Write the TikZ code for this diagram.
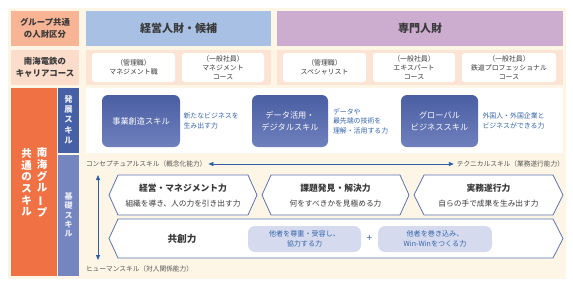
\documentclass[tikz,border=0pt]{standalone}
\usepackage{fontspec}
\usepackage{graphicx}
\setmainfont{Noto Sans CJK JP}
\usetikzlibrary{arrows.meta,calc}
\definecolor{cream}{HTML}{FDF6E6}
\definecolor{salmon}{HTML}{F8B596}
\definecolor{bluehead}{HTML}{A8C0E4}
\definecolor{purplehead}{HTML}{CCADCF}
\definecolor{peachl}{HTML}{FCDDCC}
\definecolor{peachband}{HTML}{FCE4D5}
\definecolor{orangec}{HTML}{F07143}
\definecolor{dblue}{HTML}{4560A4}
\definecolor{mblue}{HTML}{7485BF}
\definecolor{skilltop}{HTML}{4A5EA2}
\definecolor{skillbot}{HTML}{6F80BD}
\definecolor{descblue}{HTML}{3565AB}
\definecolor{arrowblue}{HTML}{2E5EA6}
\definecolor{chevborder}{HTML}{5E73AF}
\definecolor{pillc}{HTML}{D5DAEE}
\definecolor{darktext}{HTML}{3A3A3A}
\definecolor{graytext}{HTML}{555555}
\newcommand\vbar{\rotatebox[origin=c]{90}{ー}}
\begin{document}
\begin{tikzpicture}[x=1pt,y=-1pt,
  every node/.style={outer sep=0pt,inner sep=0pt},
  block/.style={draw=none,minimum height=35pt,align=center,text=darktext},
  hdr/.style={block,font=\fontsize{11}{13}\selectfont\bfseries},
  lhdr/.style={block,font=\fontsize{8.4}{12}\selectfont\bfseries},
  course/.style={fill=white,rounded corners=3pt,minimum height=29pt,align=center,text=darktext,font=\fontsize{6.9}{9.3}\selectfont},
  skillbox/.style={rounded corners=6pt,top color=skilltop,bottom color=skillbot,minimum height=52pt,align=center,text=white,font=\fontsize{8.2}{12}\selectfont},
  desc/.style={anchor=west,align=left,text=descblue,font=\fontsize{6.9}{9.5}\selectfont},
  axislabel/.style={text=graytext,font=\fontsize{6.7}{8}\selectfont},
  axisarrow/.style={draw=arrowblue,line width=0.8pt,{Triangle[length=5pt,width=4pt]}-{Triangle[length=5pt,width=4pt]}},
  chev/.style={minimum height=40pt,align=center,text=darktext},
  chevline/.style={fill=white,draw=chevborder,line width=0.8pt,line join=miter},
  pill/.style={fill=pillc,rounded corners=7pt,minimum height=26pt,align=center,text=descblue,font=\fontsize{7.1}{9.5}\selectfont},
  vtxt/.style={align=center}
]
\useasboundingbox (0,0) rectangle (573,285);
\fill[white] (0,0) rectangle (573,285);
\fill[cream] (8,8) rectangle (566,279);

% header row
\node[lhdr,fill=salmon,minimum width=68pt] (h0) at (45,28.5) {グループ共通\\の人財区分};
\node[hdr,fill=bluehead,minimum width=185pt] (h1) at (178.5,28.5) {経営人財・候補};
\node[hdr,fill=purplehead,minimum width=286pt] (h2) at (420,28.5) {専門人財};

% row 2
\node[lhdr,fill=peachl,minimum width=68pt] (r0) at (45,67.5) {南海電鉄の\\キャリアコース};
\node[block,fill=peachband,minimum width=185pt] (r1) at (178.5,67.5) {};
\node[block,fill=peachband,minimum width=286pt] (r2) at (420,67.5) {};
\node[course,minimum width=83pt] (c1) at (133.5,67.5) {（管理職）\\マネジメント職};
\node[course,minimum width=82pt] (c2) at (223,67.5) {（一般社員）\\マネジメント\\コース};
\node[course,minimum width=83pt] (c3) at (324.5,67.5) {（管理職）\\スペシャリスト};
\node[course,minimum width=82pt] (c4) at (414,67.5) {（一般社員）\\エキスパート\\コース};
\node[course,minimum width=94pt] (c5) at (509,67.5) {（一般社員）\\鉄道プロフェッショナル\\コース};

% left columns
\node[fill=orangec,minimum width=46pt,minimum height=188pt] (oc) at (34,182) {};
\node[vtxt,text=white,font=\fontsize{10.5}{11.6}\selectfont\bfseries] (ocr) at (42,182.5) {南\\海\\グ\\ル\\\vbar\\プ};
\node[vtxt,text=white,font=\fontsize{10.5}{11.6}\selectfont\bfseries] (ocl) at (26.5,182.5) {共\\通\\の\\ス\\キ\\ル};
\node[fill=dblue,minimum width=21pt,minimum height=65pt] (d1) at (68.5,120.5) {};
\node[vtxt,text=white!88!dblue,font=\fontsize{8.3}{10.4}\selectfont\bfseries] (d1t) at (68.5,119.5) {発\\展\\ス\\キ\\ル};
\node[fill=mblue,minimum width=21pt,minimum height=121pt] (d2) at (68.5,215.5) {};
\node[vtxt,text=white!85!mblue,font=\fontsize{8}{9.4}\selectfont\bfseries] (d2t) at (68.5,215) {基\\礎\\ス\\キ\\ル};

% development skills panel
\node[fill=white,minimum width=477pt,minimum height=65pt] (wp) at (324.5,120.5) {};
\node[skillbox,minimum width=78pt] (s1) at (141,121) {事業創造スキル};
\node[skillbox,minimum width=76pt] (s2) at (290,121) {データ活用・\\デジタルスキル};
\node[skillbox,minimum width=77pt] (s3) at (439.5,121) {グローバル\\ビジネススキル};
\node[desc] (t1) at (183.5,121) {新たなビジネスを\\生み出す力};
\node[desc] (t2) at (333,121) {データや\\最先端の技術を\\理解・活用する力};
\node[desc] (t3) at (482.5,121) {外国人・外国企業と\\ビジネスができる力};

% axis
\node[axislabel,anchor=west] (cl) at (86,164) {コンセプチュアルスキル（概念化能力）};
\node[axislabel,anchor=east] (tl) at (564,164) {テクニカルスキル（業務遂行能力）};
\draw[axisarrow] ([xshift=2pt]cl.east) -- ([xshift=-3pt]tl.west);
\coordinate (va) at (98,175);
\coordinate (vb) at (98,260);
\draw[axisarrow] (va) -- (vb);
\node[axislabel,anchor=west] (hl) at (86,269) {ヒューマンスキル（対人関係能力）};

% basic skill chevrons
\node[chev,minimum width=130pt] (k1) at (183,195) {};
\draw[chevline] (k1.north west) -- (k1.north east) -- ([xshift=9pt]k1.east) -- (k1.south east) -- (k1.south west) -- ([xshift=-9pt]k1.west) -- cycle;
\node[align=center,text=darktext] (k1t) at (183,195.5) {{\fontsize{8.8}{10}\selectfont\bfseries 経営・マネジメント力}\\[3pt]{\fontsize{7.7}{9}\selectfont 組織を導き、人の力を引き出す力}};

\node[chev,minimum width=129pt] (k2) at (335.5,195) {};
\draw[chevline] (k2.north west) -- (k2.north east) -- ([xshift=9pt]k2.east) -- (k2.south east) -- (k2.south west) -- ([xshift=-9pt]k2.west) -- cycle;
\node[align=center,text=darktext] (k2t) at (335.5,195.5) {{\fontsize{8.8}{10}\selectfont\bfseries 課題発見・解決力}\\[3pt]{\fontsize{7.7}{9}\selectfont 何をすべきかを見極める力}};

\node[chev,minimum width=129pt] (k3) at (488.5,195) {};
\draw[chevline] (k3.north west) -- (k3.north east) -- ([xshift=10pt]k3.east) -- (k3.south east) -- (k3.south west) -- ([xshift=-10pt]k3.west) -- cycle;
\node[align=center,text=darktext] (k3t) at (488.5,195.5) {{\fontsize{8.8}{10}\selectfont\bfseries 実務遂行力}\\[3pt]{\fontsize{7.7}{9}\selectfont 自らの手で成果を生み出す力}};

\node[chev,minimum width=435pt,minimum height=39pt] (k4) at (335.5,238.5) {};
\draw[chevline] (k4.north west) -- (k4.north east) -- ([xshift=10pt]k4.east) -- (k4.south east) -- (k4.south west) -- ([xshift=-9pt]k4.west) -- cycle;
\node[text=darktext,font=\fontsize{9.6}{11}\selectfont\bfseries] (k4t) at (182,239) {共創力};
\node[pill,minimum width=113pt] (p1) at (304.5,239) {他者を尊重・受容し、\\協力する力};
\node[text=descblue,font=\fontsize{10}{12}\selectfont] (plus) at (369.5,238.5) {+};
\node[pill,minimum width=114pt] (p2) at (435,239) {他者を巻き込み、\\Win-Winをつくる力};
\end{tikzpicture}
\end{document}
